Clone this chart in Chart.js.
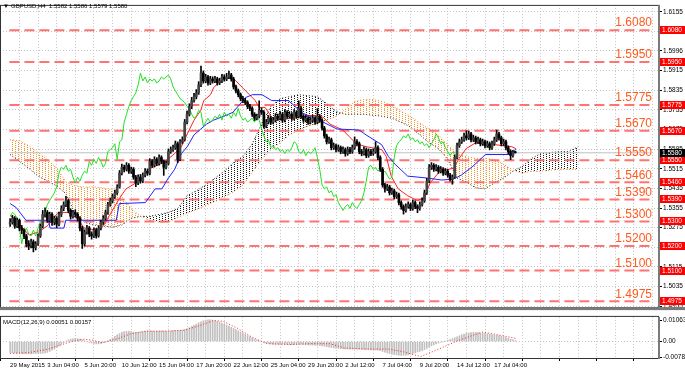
<!DOCTYPE html>
<html>
<head>
<meta charset="utf-8" />
<title>GBPUSD,H4</title>
<script src="https://cdn.jsdelivr.net/npm/chart.js"></script>
<style>
  body { margin: 0; background: #fff; }
  #wrap { position: relative; width: 685px; height: 372px; overflow: hidden; }
  canvas { position: absolute; left: 0; }
</style>
</head>
<body>
<div id="wrap">
  <canvas id="main" width="685" height="312" style="top:0"></canvas>
  <canvas id="macd" width="685" height="60" style="top:312px"></canvas>
</div>
<script>
  // ---- data ----
  const symbol = "GBPUSD,H4";
  const lastBar = [1.5582, 1.5586, 1.5579, 1.5580];
  const firstOpen = 1.5290;

  const closes = [
    1.5297, 1.5313, 1.5281, 1.5305, 1.5273, 1.5265, 1.5241, 1.5209, 1.5201, 1.5217,
    1.5193, 1.5209, 1.5241, 1.5281, 1.5329, 1.5337, 1.5305, 1.5329, 1.5297, 1.5313,
    1.5289, 1.5329, 1.5353, 1.5369, 1.5385, 1.5345, 1.5321, 1.5337, 1.5329, 1.5313,
    1.5273, 1.5209, 1.5257, 1.5273, 1.5249, 1.5241, 1.5265, 1.5241, 1.5273, 1.5297,
    1.5313, 1.5337, 1.5369, 1.5385, 1.5401, 1.5417, 1.5441, 1.5497, 1.5521, 1.5513,
    1.5529, 1.5505, 1.5513, 1.5481, 1.5457, 1.5481, 1.5465, 1.5489, 1.5505, 1.5497,
    1.5545, 1.5529, 1.5553, 1.5537, 1.5561, 1.5545, 1.5521, 1.5537, 1.5585, 1.5593,
    1.5601, 1.5617, 1.5553, 1.5625, 1.5633, 1.5705, 1.5737, 1.5769, 1.5793, 1.5809,
    1.5825, 1.5857, 1.5905, 1.5873, 1.5889, 1.5865, 1.5881, 1.5873, 1.5881, 1.5865,
    1.5873, 1.5889, 1.5881, 1.5889, 1.5897, 1.5881, 1.5849, 1.5833, 1.5817, 1.5801,
    1.5793, 1.5785, 1.5769, 1.5761, 1.5737, 1.5721, 1.5729, 1.5753, 1.5745, 1.5689,
    1.5705, 1.5721, 1.5705, 1.5713, 1.5729, 1.5721, 1.5737, 1.5713, 1.5745, 1.5729,
    1.5737, 1.5721, 1.5745, 1.5729, 1.5761, 1.5729, 1.5713, 1.5721, 1.5705, 1.5713,
    1.5721, 1.5705, 1.5729, 1.5713, 1.5681, 1.5649, 1.5625, 1.5633, 1.5601, 1.5609,
    1.5593, 1.5601, 1.5585, 1.5593, 1.5577, 1.5593, 1.5585, 1.5601, 1.5625, 1.5617,
    1.5585, 1.5577, 1.5593, 1.5569, 1.5585, 1.5577, 1.5585, 1.5601, 1.5561, 1.5513,
    1.5449, 1.5433, 1.5441, 1.5417, 1.5425, 1.5401, 1.5409, 1.5377, 1.5361, 1.5345,
    1.5361, 1.5369, 1.5353, 1.5377, 1.5361, 1.5353, 1.5369, 1.5385, 1.5417, 1.5465,
    1.5521, 1.5529, 1.5513, 1.5521, 1.5505, 1.5513, 1.5497, 1.5505, 1.5489, 1.5473,
    1.5481, 1.5561, 1.5609, 1.5625, 1.5633, 1.5649, 1.5641, 1.5657, 1.5633, 1.5641,
    1.5625, 1.5633, 1.5617, 1.5625, 1.5609, 1.5617, 1.5601, 1.5617, 1.5633, 1.5657,
    1.5641, 1.5617, 1.5625, 1.5601, 1.5585, 1.5569, 1.5582, 1.5580
  ];
  const highs = [
    1.5312, 1.5325, 1.5320, 1.5314, 1.5310, 1.5284, 1.5270, 1.5248, 1.5222, 1.5228,
    1.5225, 1.5218, 1.5250, 1.5290, 1.5345, 1.5356, 1.5345, 1.5338, 1.5336, 1.5322,
    1.5320, 1.5338, 1.5364, 1.5380, 1.5403, 1.5392, 1.5352, 1.5346, 1.5348, 1.5336,
    1.5320, 1.5280, 1.5266, 1.5284, 1.5280, 1.5258, 1.5274, 1.5272, 1.5282, 1.5306,
    1.5324, 1.5346, 1.5378, 1.5396, 1.5412, 1.5428, 1.5450, 1.5508, 1.5534, 1.5530,
    1.5540, 1.5536, 1.5522, 1.5520, 1.5488, 1.5490, 1.5492, 1.5498, 1.5516, 1.5514,
    1.5556, 1.5552, 1.5564, 1.5560, 1.5572, 1.5568, 1.5550, 1.5546, 1.5596, 1.5604,
    1.5612, 1.5628, 1.5624, 1.5634, 1.5645, 1.5716, 1.5750, 1.5780, 1.5806, 1.5822,
    1.5838, 1.5870, 1.5934, 1.5914, 1.5900, 1.5896, 1.5892, 1.5890, 1.5892, 1.5888,
    1.5884, 1.5900, 1.5898, 1.5904, 1.5913, 1.5904, 1.5888, 1.5856, 1.5840, 1.5824,
    1.5810, 1.5802, 1.5792, 1.5778, 1.5768, 1.5744, 1.5738, 1.5792, 1.5762, 1.5752,
    1.5716, 1.5732, 1.5728, 1.5724, 1.5740, 1.5738, 1.5748, 1.5744, 1.5756, 1.5752,
    1.5748, 1.5744, 1.5756, 1.5752, 1.5792, 1.5768, 1.5736, 1.5732, 1.5728, 1.5724,
    1.5732, 1.5728, 1.5760, 1.5736, 1.5720, 1.5688, 1.5656, 1.5644, 1.5640, 1.5620,
    1.5616, 1.5612, 1.5608, 1.5604, 1.5600, 1.5604, 1.5602, 1.5612, 1.5645, 1.5634,
    1.5624, 1.5594, 1.5604, 1.5600, 1.5596, 1.5594, 1.5596, 1.5625, 1.5608, 1.5568,
    1.5520, 1.5456, 1.5452, 1.5448, 1.5436, 1.5432, 1.5420, 1.5416, 1.5384, 1.5368,
    1.5372, 1.5380, 1.5376, 1.5388, 1.5384, 1.5368, 1.5380, 1.5396, 1.5428, 1.5476,
    1.5532, 1.5540, 1.5536, 1.5532, 1.5528, 1.5524, 1.5520, 1.5516, 1.5512, 1.5496,
    1.5490, 1.5572, 1.5620, 1.5636, 1.5644, 1.5660, 1.5670, 1.5668, 1.5664, 1.5652,
    1.5648, 1.5644, 1.5640, 1.5636, 1.5632, 1.5628, 1.5624, 1.5628, 1.5644, 1.5673,
    1.5664, 1.5648, 1.5636, 1.5632, 1.5608, 1.5592, 1.5590, 1.5586
  ];
  const lows = [
    1.5280, 1.5289, 1.5272, 1.5275, 1.5262, 1.5250, 1.5230, 1.5196, 1.5185, 1.5192,
    1.5176, 1.5184, 1.5202, 1.5235, 1.5274, 1.5318, 1.5296, 1.5297, 1.5284, 1.5286,
    1.5275, 1.5282, 1.5320, 1.5344, 1.5360, 1.5336, 1.5310, 1.5314, 1.5318, 1.5302,
    1.5262, 1.5190, 1.5200, 1.5248, 1.5238, 1.5228, 1.5234, 1.5232, 1.5236, 1.5266,
    1.5288, 1.5306, 1.5330, 1.5362, 1.5376, 1.5394, 1.5410, 1.5436, 1.5490, 1.5502,
    1.5506, 1.5496, 1.5496, 1.5472, 1.5442, 1.5450, 1.5456, 1.5458, 1.5482, 1.5488,
    1.5490, 1.5520, 1.5522, 1.5528, 1.5530, 1.5536, 1.5488, 1.5514, 1.5530, 1.5578,
    1.5586, 1.5594, 1.5540, 1.5548, 1.5618, 1.5628, 1.5698, 1.5730, 1.5760, 1.5786,
    1.5800, 1.5818, 1.5850, 1.5864, 1.5866, 1.5856, 1.5858, 1.5864, 1.5866, 1.5856,
    1.5858, 1.5866, 1.5872, 1.5874, 1.5882, 1.5872, 1.5840, 1.5824, 1.5808, 1.5792,
    1.5784, 1.5776, 1.5760, 1.5752, 1.5728, 1.5712, 1.5714, 1.5722, 1.5736, 1.5680,
    1.5682, 1.5698, 1.5696, 1.5698, 1.5706, 1.5712, 1.5714, 1.5704, 1.5706, 1.5720,
    1.5722, 1.5712, 1.5714, 1.5720, 1.5722, 1.5720, 1.5704, 1.5706, 1.5696, 1.5698,
    1.5706, 1.5696, 1.5698, 1.5704, 1.5672, 1.5640, 1.5616, 1.5618, 1.5592, 1.5594,
    1.5584, 1.5586, 1.5576, 1.5578, 1.5566, 1.5570, 1.5576, 1.5578, 1.5594, 1.5608,
    1.5576, 1.5568, 1.5570, 1.5560, 1.5562, 1.5568, 1.5570, 1.5578, 1.5552, 1.5504,
    1.5440, 1.5420, 1.5426, 1.5408, 1.5410, 1.5392, 1.5394, 1.5368, 1.5350, 1.5330,
    1.5338, 1.5354, 1.5344, 1.5346, 1.5352, 1.5336, 1.5346, 1.5362, 1.5378, 1.5410,
    1.5458, 1.5512, 1.5504, 1.5506, 1.5496, 1.5498, 1.5488, 1.5490, 1.5480, 1.5464,
    1.5452, 1.5476, 1.5554, 1.5602, 1.5618, 1.5626, 1.5632, 1.5634, 1.5624, 1.5626,
    1.5616, 1.5618, 1.5608, 1.5610, 1.5600, 1.5602, 1.5592, 1.5594, 1.5610, 1.5626,
    1.5632, 1.5608, 1.5610, 1.5592, 1.5576, 1.5552, 1.5562, 1.5579
  ];

  // ichimoku lines, [bar index, price]
  const tenkan = [[0,1.5325],[1.8,1.5313],[8.1,1.5245],[12.2,1.5257],[16.4,1.5285],[20.6,1.5337],[24.7,1.5337],[28.9,1.5313],[31.8,1.5273],[37.3,1.5265],[40.2,1.5285],[42.7,1.5325],[46.9,1.5393],[49.8,1.5433],[54,1.5457],[56.9,1.5473],[59.4,1.5513],[62.3,1.5525],[65.2,1.5537],[67.7,1.5553],[70.7,1.5577],[73.6,1.5605],[76.1,1.5657],[79,1.5713],[81.9,1.5753],[83.2,1.5793],[86.1,1.5817],[87.4,1.5845],[90.3,1.5873],[92.8,1.5885],[95.7,1.5885],[97,1.5873],[99.9,1.5845],[102.8,1.5817],[105.3,1.5793],[107,1.5765],[109.5,1.5765],[112.4,1.5725],[116.6,1.5713],[122,1.5725],[130.3,1.5733],[134.5,1.5725],[137.4,1.5697],[142.9,1.5673],[145.8,1.5645],[148.7,1.5617],[152.9,1.5605],[159.6,1.5593],[161.6,1.5565],[163.7,1.5485],[166.7,1.5433],[170.8,1.5405],[175,1.5385],[177.9,1.5397],[180.4,1.5457],[184.6,1.5505],[190.5,1.5517],[192.9,1.5557],[195.9,1.5597],[200,1.5621],[204.2,1.5613],[208.4,1.5613],[215.5,1.5605],[217.2,1.5597]];
  const kijun = [[0,1.5373],[2.6,1.5357],[6.8,1.5305],[16.4,1.5305],[17.2,1.5273],[23.1,1.5273],[23.9,1.5305],[45.6,1.5305],[46.9,1.5373],[58.1,1.5377],[62.3,1.5433],[65.2,1.5433],[67.7,1.5473],[70.7,1.5513],[73.6,1.5577],[76.1,1.5605],[79,1.5653],[81.9,1.5677],[84.4,1.5697],[87.4,1.5713],[92.8,1.5733],[95.7,1.5745],[98.6,1.5777],[101.1,1.5805],[104.1,1.5817],[108.2,1.5817],[112.4,1.5793],[119.5,1.5793],[122,1.5773],[124.9,1.5745],[134.5,1.5705],[140.4,1.5677],[149.9,1.5673],[152.9,1.5653],[159.6,1.5613],[162.5,1.5565],[165.4,1.5533],[170.8,1.5485],[179.2,1.5477],[185.4,1.5469],[190.5,1.5473],[193.8,1.5489],[198.8,1.5525],[204.2,1.5573],[215.9,1.5573],[217.2,1.5597]];

  // cloud, both spans read at the same bar positions
  const spanIdx = [0,4,8,12,16,20,24,28,32,36,40,44,48,52,56,60,64,68,72,76,80,84,88,92,96,100,104,108,112,116,120,124,128,132,136,140,144,148,152,156,160,164,168,172,176,180,184,188,192,196,200,204,208,212,216,220,224,228,232,236,240,244];
  const spanA = [1.5633,1.5629,1.5609,1.5581,1.5553,1.5517,1.5461,1.5445,1.5441,1.5441,1.5437,1.5429,1.5401,1.5353,1.5321,1.5305,1.5297,1.5297,1.5317,1.5333,1.5349,1.5365,1.5381,1.5401,1.5421,1.5449,1.5501,1.5553,1.5593,1.5621,1.5653,1.5673,1.5689,1.5701,1.5713,1.5729,1.5757,1.5789,1.5797,1.5797,1.5789,1.5773,1.5749,1.5729,1.5701,1.5677,1.5653,1.5613,1.5573,1.5565,1.5557,1.5557,1.5553,1.5533,1.5509,1.5497,1.5505,1.5505,1.5509,1.5513,1.5513,1.5513];
  const spanB = [1.5573,1.5545,1.5517,1.5485,1.5465,1.5445,1.5413,1.5329,1.5297,1.5285,1.5281,1.5277,1.5285,1.5313,1.5321,1.5321,1.5329,1.5337,1.5353,1.5405,1.5425,1.5449,1.5477,1.5505,1.5541,1.5565,1.5617,1.5697,1.5769,1.5801,1.5809,1.5817,1.5813,1.5809,1.5781,1.5749,1.5737,1.5737,1.5737,1.5733,1.5729,1.5721,1.5705,1.5685,1.5653,1.5621,1.5597,1.5553,1.5477,1.5461,1.5437,1.5433,1.5457,1.5477,1.5505,1.5525,1.5557,1.5577,1.5581,1.5585,1.5585,1.5605];
  const chikouShift = 26;

  const levels = [1.6080, 1.5950, 1.5775, 1.5670, 1.5550, 1.5460, 1.5390, 1.5300, 1.5200, 1.5100, 1.4975];
  const priceTicks = ["1.6155","1.6075","1.5996","1.5915","1.5835","1.5755","1.5675","1.5595","1.5515","1.5435","1.5355","1.5275","1.5195","1.5115","1.5035","1.4955"];

  const macdHist = [
    -0.0055,-0.0057,-0.0058,-0.0059,-0.0060,-0.0061,-0.0061,-0.0062,-0.0062,-0.0062,
    -0.0061,-0.0061,-0.0060,-0.0060,-0.0059,-0.0057,-0.0055,
    -0.0050,-0.0044,-0.0038,-0.0030,-0.0022,-0.0014,
    -0.0006,0.0002,0.0008,0.0012,0.0014,0.0015,0.0014,0.0012,0.0008,0.0004,0.0000,-0.0004,
    -0.0008,-0.0010,-0.0012,-0.0012,-0.0010,-0.0006,-0.0002,0.0004,0.0010,0.0018,0.0026,0.0034,
    0.0040,0.0046,0.0050,0.0052,0.0052,0.0050,0.0048,0.0046,0.0046,0.0048,
    0.0050,0.0052,0.0054,0.0054,0.0053,0.0052,0.0052,0.0053,0.0054,0.0053,
    0.0052,0.0052,0.0053,0.0055,0.0056,0.0056,0.0057,0.0058,0.0060,0.0064,0.0070,
    0.0076,0.0082,0.0088,0.0094,0.0100,0.0105,0.0108,
    0.0110,0.0110,0.0108,0.0105,0.0102,
    0.0098,0.0093,0.0088,0.0083,0.0078,0.0072,0.0066,0.0060,
    0.0054,0.0048,0.0042,0.0036,0.0030,0.0024,0.0018,0.0012,
    0.0007,0.0003,0.0000,-0.0004,-0.0008,
    -0.0010,-0.0012,-0.0013,-0.0014,-0.0014,-0.0015,-0.0014,-0.0014,-0.0015,-0.0016,
    -0.0016,-0.0015,-0.0014,-0.0013,-0.0014,-0.0015,-0.0016,-0.0017,-0.0018,-0.0018,
    -0.0019,-0.0020,-0.0020,-0.0022,-0.0024,-0.0026,-0.0028,
    -0.0030,-0.0032,-0.0034,-0.0035,-0.0036,-0.0037,-0.0038,-0.0038,-0.0039,-0.0039,
    -0.0038,-0.0038,-0.0039,-0.0040,-0.0040,-0.0041,-0.0041,-0.0042,-0.0042,-0.0043,-0.0044,
    -0.0046,-0.0050,-0.0054,-0.0058,-0.0061,-0.0064,-0.0066,-0.0068,-0.0069,-0.0070,
    -0.0070,-0.0069,-0.0067,-0.0064,-0.0061,-0.0057,-0.0053,
    -0.0050,-0.0046,-0.0041,-0.0035,-0.0028,-0.0022,-0.0017,-0.0012,-0.0008,-0.0004,-0.0001,
    0.0002,0.0006,0.0010,0.0014,0.0019,0.0024,0.0029,0.0034,0.0038,0.0041,
    0.0043,0.0045,0.0046,0.0046,0.0045,0.0044,0.0043,0.0041,0.0039,0.0037,0.0035,
    0.0033,0.0031,0.0030,0.0027,0.0024,0.0020,0.0016,0.0012,0.0008,0.0005
  ];
  const macdSignal = [[0,-0.0060],[8.1,-0.0056],[16.4,-0.0038],[24.7,-0.0006],[31,0.0012],[35.2,0.0007],[39.4,-0.0006],[45.6,0.0012],[51.9,0.0039],[58.1,0.0052],[66.5,0.0052],[74.8,0.0057],[81.1,0.0079],[87.4,0.0106],[91.5,0.0102],[97.8,0.0066],[104.1,0.0021],[110.3,-0.0011],[120.7,-0.0015],[129.1,-0.0011],[137.4,-0.0011],[143.7,-0.0033],[154.1,-0.0038],[162.5,-0.0038],[168.7,-0.0051],[176.3,-0.0076],[183.4,-0.0042],[192.9,0.0007],[203,0.0048],[209.6,0.0034],[217.2,0.0016]];
  const macdLabel = "MACD(12,26,9)";
  const macdLast = ["0.00051", "0.00157"];
  const macdTicks = ["0.01063", "0.00", "-0.00787"];

  const timeLabels = ["29 May 2015","3 Jun 04:00","5 Jun 20:00","10 Jun 12:00","15 Jun 04:00","17 Jun 20:00","22 Jun 12:00","25 Jun 04:00","29 Jun 20:00","2 Jul 12:00","7 Jul 04:00","9 Jul 20:00","14 Jul 12:00","17 Jul 04:00"];
  const barsPerLabel = 16;

  // ---- chart ----
  const FONT = '"Liberation Sans", Arial, sans-serif';
  Chart.defaults.font.family = FONT;
  Chart.defaults.color = "#000";

  const xMin = -0.3, xMax = 274.7;
  const gridIdx = [];
  for (let i = 0; i <= 272; i += 8) gridIdx.push(i);

  const opens = closes.map((c, i) => (i === 0 ? firstOpen : closes[i - 1]));
  const pts = arr => arr.map(p => ({ x: p[0], y: p[1] }));
  const spanPts = vals => vals.map((v, i) => ({ x: spanIdx[i], y: v }));

  // dotted hatch like the terminal draws its cloud (staggered dots)
  function dots(color) {
    const c = document.createElement("canvas");
    c.width = 6; c.height = 2;
    const g = c.getContext("2d");
    g.fillStyle = color;
    g.fillRect(0, 0, 1, 1);
    g.fillRect(3, 1, 1, 1);
    return document.getElementById("main").getContext("2d").createPattern(c, "repeat");
  }
  const orangeDots = dots("#f39428");
  const blackDots = dots("#1a1a1a");

  const mainOverlay = {
    id: "mainOverlay",
    afterDatasetsDraw(chart) {
      const { ctx, chartArea: a, scales: { y } } = chart;
      ctx.save();
      ctx.font = "12px " + FONT;
      ctx.fillStyle = "#ff5a1f";
      ctx.textAlign = "right";
      ctx.textBaseline = "bottom";
      levels.forEach(v => ctx.fillText(v.toFixed(4), a.right - 7, y.getPixelForValue(v) - 1));
      ctx.restore();
    },
    afterDraw(chart) {
      const { ctx, chartArea: a, scales: { y } } = chart;
      ctx.save();
      ctx.font = "6.5px " + FONT;
      ctx.textBaseline = "middle";
      ctx.textAlign = "left";
      levels.forEach(v => {
        const py = Math.round(y.getPixelForValue(v));
        ctx.fillStyle = "#ff0000";
        ctx.fillRect(a.right + 1, py - 4, 26, 8);
        ctx.fillStyle = "#fff";
        ctx.fillText(v.toFixed(4), a.right + 3, py);
      });
      const bid = lastBar[3];
      const by = Math.round(y.getPixelForValue(bid));
      ctx.fillStyle = "#000";
      ctx.fillRect(a.right + 1, by - 4, 26, 8);
      ctx.fillStyle = "#fff";
      ctx.fillText(bid.toFixed(4), a.right + 3, by);
      // frame
      ctx.strokeStyle = "#333";
      ctx.lineWidth = 1;
      ctx.strokeRect(a.left + 0.5, a.top + 0.5, a.width - 1, a.height);
      ctx.fillStyle = "#7a7a7a";
      ctx.fillRect(a.right - 1, a.top, 2, a.height);
      ctx.fillRect(0, a.bottom, chart.width, 3);
      // title
      ctx.fillStyle = "#000";
      ctx.font = "6px " + FONT;
      ctx.fillText("\u25BC", 3, 6);
      ctx.fillText(symbol + "  " + lastBar.map(v => v.toFixed(4)).join(" "), 11, 6);
      ctx.restore();
    }
  };

  const levelSets = levels.map(v => ({
    data: [{ x: xMin, y: v }, { x: xMax, y: v }],
    borderColor: "rgba(255,80,80,0.8)", borderWidth: 2, borderDash: [10, 5],
    pointRadius: 0, order: 3
  }));

  new Chart(document.getElementById("main"), {
    type: "line",
    data: {
      datasets: [
        { data: spanPts(spanB), borderColor: "#222", borderWidth: 1, borderDash: [1, 2], pointRadius: 0, order: 6 },
        { data: spanPts(spanA), borderColor: "#f08a20", borderWidth: 1, borderDash: [1, 2], pointRadius: 0, order: 5,
          fill: { target: 0, above: orangeDots, below: blackDots } },
        ...levelSets,
        { data: [{ x: xMin, y: lastBar[3] }, { x: xMax, y: lastBar[3] }], borderColor: "#c0c0c0", borderWidth: 1, pointRadius: 0, order: 3 },
        { data: closes.slice(chikouShift).map((c, i) => ({ x: i, y: c })), borderColor: "#22e022", borderWidth: 1, pointRadius: 0, order: 2 },
        { data: pts(kijun), borderColor: "#2020ff", borderWidth: 1, pointRadius: 0, order: 2 },
        { data: pts(tenkan), borderColor: "#ff2020", borderWidth: 1, pointRadius: 0, order: 2 },
        { type: "bar", data: closes.map((c, i) => ({ x: i, y: [lows[i], highs[i]] })),
          backgroundColor: "#000", barThickness: 1, grouped: false, order: 1 },
        { type: "bar", data: closes.map((c, i) => ({ x: i, y: [opens[i], c] })),
          backgroundColor: closes.map((c, i) => (c >= opens[i] ? "#444" : "#000")),
          barThickness: 2, minBarLength: 1, grouped: false, order: 0 }
      ]
    },
    options: {
      responsive: false,
      animation: false,
      layout: { padding: { top: 0, bottom: 3, left: 0, right: 0 } },
      plugins: { legend: { display: false }, tooltip: { enabled: false } },
      scales: {
        x: {
          type: "linear", min: xMin, max: xMax,
          afterBuildTicks: s => { s.ticks = gridIdx.map(v => ({ value: v })); },
          afterFit: s => { s.height = 0; },
          ticks: { display: false },
          grid: { color: "#c4c4c4", drawTicks: false },
          border: { display: false, dash: [1, 2] }
        },
        y: {
          position: "right", min: 1.4951, max: 1.6183,
          afterBuildTicks: s => { s.ticks = priceTicks.map(t => ({ value: parseFloat(t) })); },
          afterFit: s => { s.width = 26; },
          ticks: { autoSkip: false, padding: 1, font: { size: 6.5 },
            callback: (v, i) => priceTicks[i] },
          grid: { color: "#c4c4c4", tickLength: 3, tickColor: "#000" },
          border: { display: false, dash: [1, 2] }
        }
      }
    },
    plugins: [mainOverlay]
  });

  const macdOverlay = {
    id: "macdOverlay",
    afterDraw(chart) {
      const { ctx, chartArea: a } = chart;
      ctx.save();
      ctx.strokeStyle = "#333";
      ctx.lineWidth = 1;
      ctx.strokeRect(a.left + 0.5, a.top - 0.5, a.width - 1, a.height + 1);
      ctx.fillStyle = "#7a7a7a";
      ctx.fillRect(a.right - 1, a.top, 2, a.height + 1);
      ctx.fillStyle = "#000";
      ctx.font = "6px " + FONT;
      ctx.textBaseline = "middle";
      ctx.fillText(macdLabel + " " + macdLast.join(" "), 3, a.top + 5);
      ctx.restore();
    }
  };

  new Chart(document.getElementById("macd"), {
    type: "line",
    data: {
      datasets: [
        { data: pts(macdSignal), borderColor: "#ff2020", borderWidth: 1, borderDash: [1, 2], pointRadius: 0, order: 0 },
        { type: "bar", data: macdHist.map((v, i) => ({ x: i, y: v })),
          backgroundColor: "#c0c0c0", barThickness: 1, grouped: false, order: 1 }
      ]
    },
    options: {
      responsive: false,
      animation: false,
      layout: { padding: 0 },
      plugins: { legend: { display: false }, tooltip: { enabled: false } },
      scales: {
        x: {
          type: "linear", min: xMin, max: xMax,
          afterBuildTicks: s => { s.ticks = gridIdx.map(v => ({ value: v })); },
          afterFit: s => { s.height = 14; },
          ticks: { autoSkip: false, maxRotation: 0, align: "start", padding: 1, font: { size: 6 },
            callback: v => (v % barsPerLabel === 0 ? timeLabels[v / barsPerLabel] || "" : "") },
          grid: { color: "#c4c4c4", tickLength: 3,
            tickColor: c => (c.tick && c.tick.value % barsPerLabel === 0 ? "#000" : "rgba(0,0,0,0)") },
          border: { display: false, dash: [1, 2] }
        },
        y: {
          position: "right", min: -0.00832, max: 0.01243,
          afterBuildTicks: s => { s.ticks = macdTicks.map(t => ({ value: parseFloat(t) })); },
          afterFit: s => { s.width = 26; },
          ticks: { autoSkip: false, padding: 1, font: { size: 6.5 },
            callback: (v, i) => macdTicks[i] },
          grid: { color: c => (c.tick && c.tick.value === 0 ? "#c4c4c4" : "rgba(0,0,0,0)"), tickLength: 3, tickColor: "#000" },
          border: { display: false, dash: [1, 2] }
        }
      }
    },
    plugins: [macdOverlay]
  });
</script>
</body>
</html>
